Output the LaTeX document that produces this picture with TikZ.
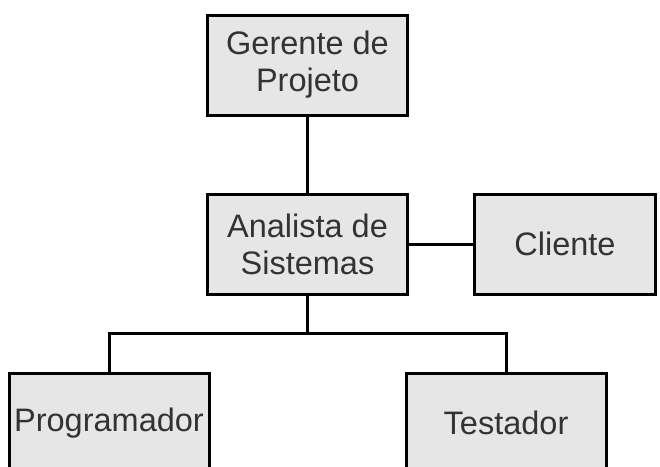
\documentclass[tikz,border=0pt]{standalone}
\usepackage{fontspec}
\setmainfont{Liberation Sans}
\usepackage{xcolor}
\usetikzlibrary{positioning,trees}
\definecolor{boxgray}{HTML}{E6E6E6}
\definecolor{textgray}{HTML}{333333}
\tikzset{
  edge from parent fork down,
  level distance=179pt,
  sibling distance=397pt,
  all/.style  = {align=center},
  basic/.style  = {all, draw, line width=3pt, rectangle, fill=boxgray,
    text=textgray, font=\fontsize{32.5}{37}\selectfont, inner sep=0pt},
  role/.style   = {basic, minimum width=200pt, minimum height=100pt},
  outside/.style = {basic, minimum width=181pt, minimum height=100pt},
  link/.style = {draw, line width=3pt}
}
\begin{document}
\begin{tikzpicture}[edge from parent/.style={link}]
\useasboundingbox (0pt,0pt) rectangle (660pt,-466pt);
% top of the chart, level 1
\node[role] (gerente) at (307.5pt,-65pt) {Gerente de\\Projeto}
% analyst and his team below
  child {node[role] (analista) {Analista de\\Sistemas}
    child {node[role] (programador) {Programador}}
    child {node[role] (testador) {Testador}}
  };

\node [outside,right=64pt of analista] (cliente) {Cliente};

\draw[link] (analista) -- (cliente);
\end{tikzpicture}
\end{document}
